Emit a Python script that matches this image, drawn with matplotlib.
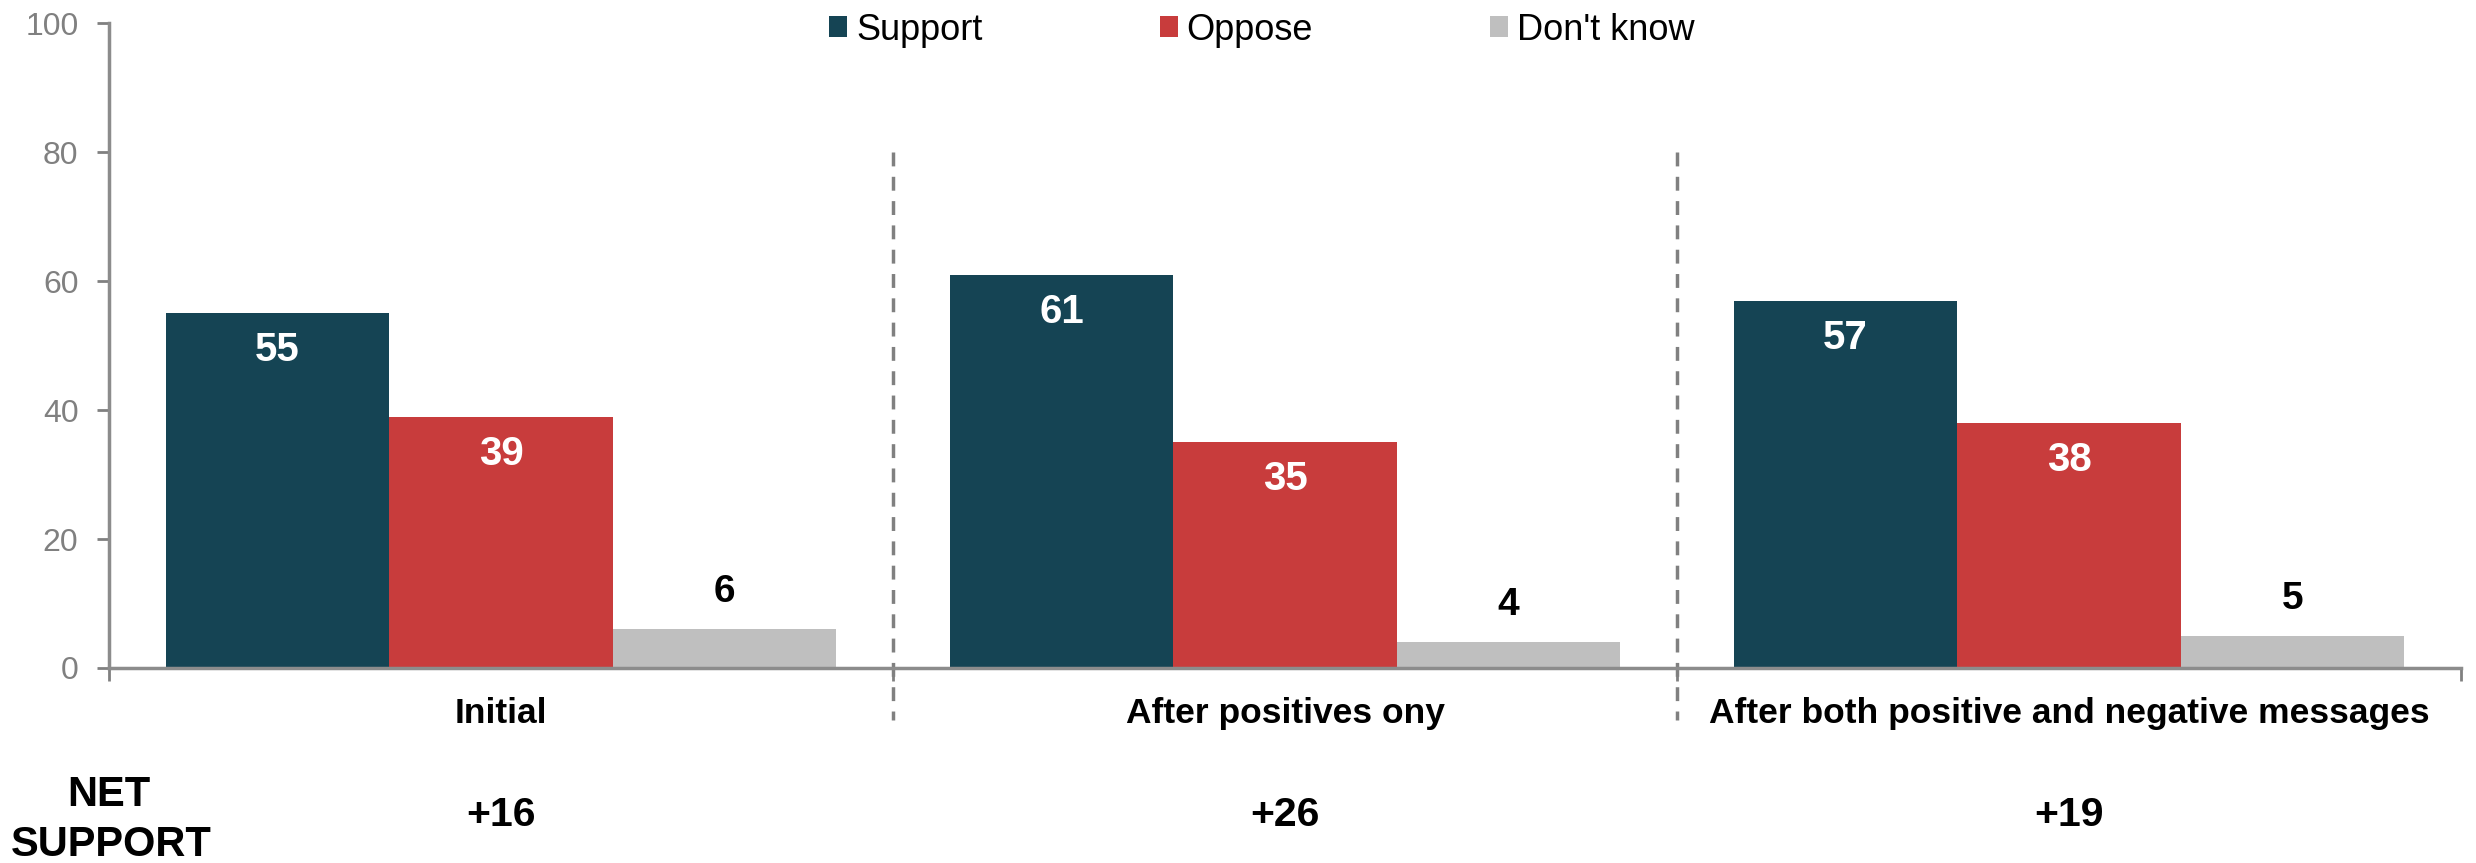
import matplotlib.pyplot as plt
import numpy as np

categories = ["Initial", "After positives ony", "After both positive and negative messages"]
support = [55, 61, 57]
oppose = [39, 35, 38]
dont_know = [6, 4, 5]
net_labels = ["+16", "+26", "+19"]
series_names = ["Support", "Oppose", "Don't know"]
colors = ["#154454", "#C83C3C", "#BFBFBF"]

plt.rcParams['font.family'] = ['Liberation Sans', 'DejaVu Sans']

fig = plt.figure(figsize=(24.76, 8.63), dpi=100)
ax = fig.add_axes([0.044, 0.226, 0.950, 0.747])

x = np.arange(len(categories))
w = 0.285
series = [support, oppose, dont_know]
for i, (vals, name, c) in enumerate(zip(series, series_names, colors)):
    bars = ax.bar(x + (i - 1) * w, vals, w, color=c, label=name)
    for b, v in zip(bars, vals):
        cx = b.get_x() + b.get_width() / 2
        if i < 2:
            ax.annotate(str(v), (cx, v), xytext=(0, -37), textcoords='offset pixels',
                        ha='center', va='center', color='white', fontsize=29,
                        fontweight='bold')
        else:
            ax.annotate(str(v), (cx, v), xytext=(0, 37), textcoords='offset pixels',
                        ha='center', va='center', color='black', fontsize=28,
                        fontweight='bold')

ax.set_xlim(-0.5, len(categories) - 0.5)
ax.set_ylim(0, 100)
ax.set_yticks([0, 20, 40, 60, 80, 100])
ax.tick_params(axis='y', labelsize=23, colors='#808080', length=9, width=2, pad=13)
ax.set_xticks(np.arange(len(categories) + 1) - 0.5)
ax.set_xticklabels([])
ax.tick_params(axis='x', length=9, width=2, color='#808080', direction='out')
for s in ['top', 'right']:
    ax.spines[s].set_visible(False)
for s in ['left', 'bottom']:
    ax.spines[s].set_color('#8C8C8C')
    ax.spines[s].set_linewidth(2.5)

# category labels
for xi, cat in zip(x, categories):
    ax.text(xi, -7.0, cat, ha='center', va='center', fontsize=25.5, fontweight='bold')

# dashed separators
for xs in [0.5, 1.5]:
    ax.plot([xs, xs], [80, -8], color='#808080', lw=2.5, ls=(0, (4, 3)), clip_on=False)

# net support row
fig.text(109 / 2476, 1 - 795 / 863, "NET", ha='center', va='center', fontsize=30,
         fontweight='bold')
fig.text(111 / 2476, 1 - 845 / 863, "SUPPORT", ha='center', va='center', fontsize=30,
         fontweight='bold')
for xi, lab in zip(x, net_labels):
    ax.text(xi, -22.8, lab, ha='center', va='center', fontsize=29.5, fontweight='bold')

leg = ax.legend(loc='center', bbox_to_anchor=(1262 / 2476, 1 - 30 / 863),
                bbox_transform=fig.transFigure, ncol=3, frameon=False,
                fontsize=26, handlelength=0.5, handleheight=0.5, handletextpad=0.25,
                columnspacing=4.9, borderpad=0)

fig.savefig("out.png", dpi=100)
